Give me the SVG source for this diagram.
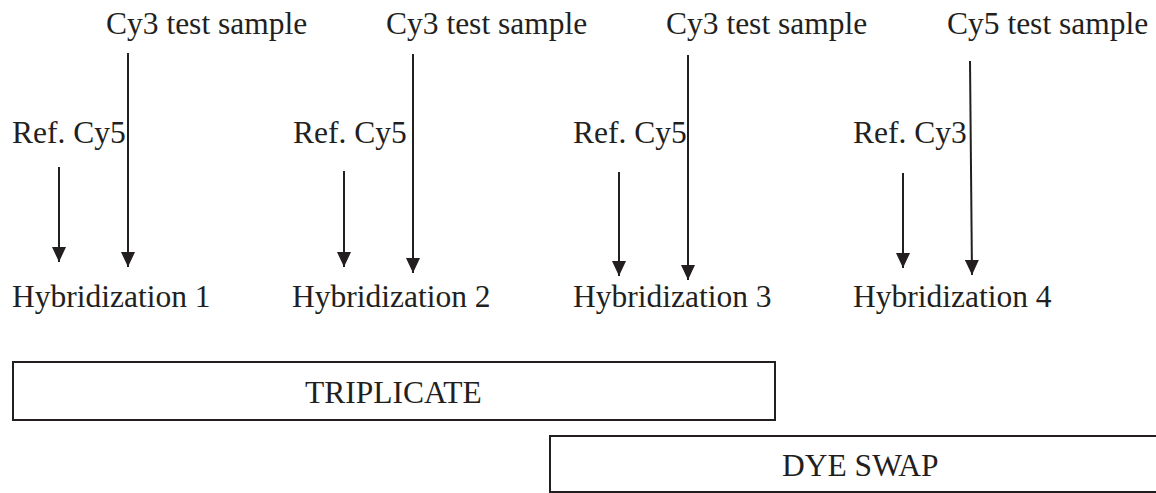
<svg xmlns="http://www.w3.org/2000/svg" width="1156" height="493" viewBox="0 0 1156 493">
<style>
text{font-family:"Liberation Serif","Times New Roman",serif;font-size:31.5px;fill:#231f20}
.ln{stroke:#231f20;stroke-width:2;fill:none}
.box{stroke:#231f20;stroke-width:2;fill:#fff}
</style>
<defs>
<marker id="ah" markerWidth="15" markerHeight="14" refX="15" refY="7" orient="auto" markerUnits="userSpaceOnUse" viewBox="0 0 15 14">
<path d="M0,0 L15,7 L0,14 z" fill="#231f20"/>
</marker>
</defs>
<rect width="1156" height="493" fill="#fff"/>
<g id="test1"><text x="106" y="34">Cy3 test sample</text></g>
<g id="test2"><text x="386" y="34">Cy3 test sample</text></g>
<g id="test3"><text x="666" y="34">Cy3 test sample</text></g>
<g id="test4"><text x="947" y="34">Cy5 test sample</text></g>
<g id="ref1"><text x="12" y="143">Ref. Cy5</text></g>
<g id="ref2"><text x="293" y="143">Ref. Cy5</text></g>
<g id="ref3"><text x="573" y="143">Ref. Cy5</text></g>
<g id="ref4"><text x="853" y="143">Ref. Cy3</text></g>
<g id="hyb1"><text x="12" y="307">Hybridization 1</text></g>
<g id="hyb2"><text x="292" y="307">Hybridization 2</text></g>
<g id="hyb3"><text x="573" y="307">Hybridization 3</text></g>
<g id="hyb4"><text x="853" y="307">Hybridization 4</text></g>
<g id="triplicate"><rect class="box" x="13" y="362" width="762" height="58"/><text x="305" y="403">TRIPLICATE</text></g>
<g id="dyeswap"><rect class="box" x="550" y="436" width="620" height="56"/><text x="782" y="476">DYE SWAP</text></g>
<g id="connectors">
<line class="ln" x1="128" y1="53" x2="128" y2="267" marker-end="url(#ah)"/>
<line class="ln" x1="413" y1="54" x2="413" y2="273" marker-end="url(#ah)"/>
<line class="ln" x1="688" y1="55" x2="688" y2="280" marker-end="url(#ah)"/>
<line class="ln" x1="970" y1="61" x2="972" y2="275" marker-end="url(#ah)"/>
<line class="ln" x1="59" y1="167" x2="59" y2="262" marker-end="url(#ah)"/>
<line class="ln" x1="344" y1="171" x2="344" y2="267" marker-end="url(#ah)"/>
<line class="ln" x1="619" y1="172" x2="619" y2="276" marker-end="url(#ah)"/>
<line class="ln" x1="903" y1="173" x2="903" y2="268" marker-end="url(#ah)"/>
</g>
</svg>
